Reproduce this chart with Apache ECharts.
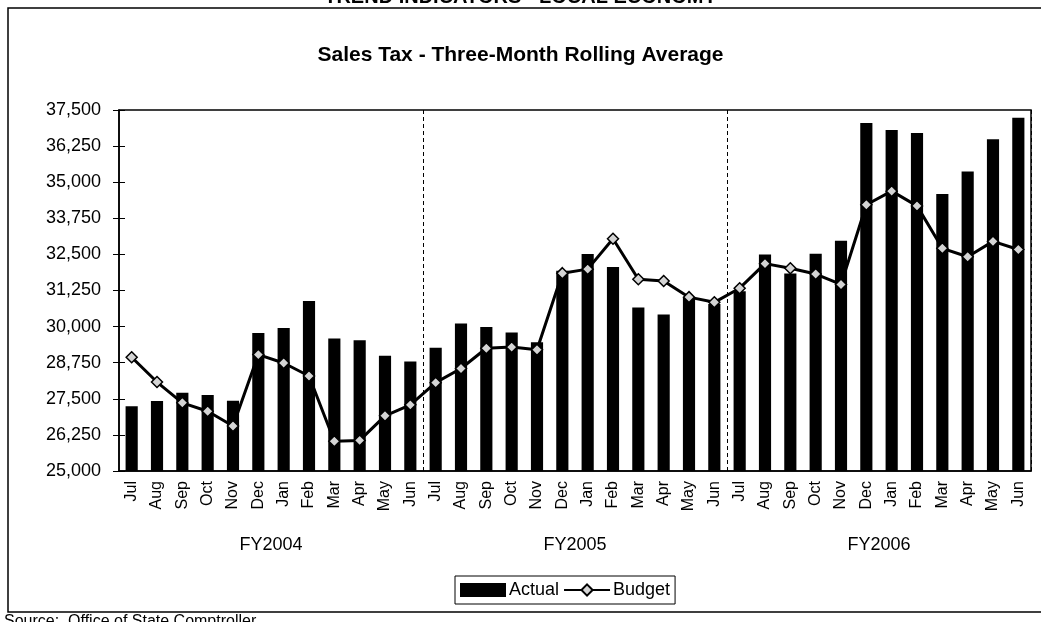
<!DOCTYPE html>
<html>
<head>
<meta charset="utf-8">
<title>Sales Tax - Three-Month Rolling Average</title>
<script src="https://cdn.jsdelivr.net/npm/echarts@6/dist/echarts.min.js"></script>
<style>
  html, body { margin: 0; padding: 0; background: #fff; }
  #line01 { width: 1041px; height: 622px; }
</style>
</head>
<body>
<div id="line01"></div>
<script>
// months, three fiscal years (Jul - Jun)
const months = ["Jul", "Aug", "Sep", "Oct", "Nov", "Dec", "Jan", "Feb", "Mar", "Apr", "May", "Jun",
  "Jul", "Aug", "Sep", "Oct", "Nov", "Dec", "Jan", "Feb", "Mar", "Apr", "May", "Jun",
  "Jul", "Aug", "Sep", "Oct", "Nov", "Dec", "Jan", "Feb", "Mar", "Apr", "May", "Jun"]
const fiscalYears = ["FY2004", "FY2005", "FY2006"]

const actual = [27240, 27420, 27710, 27630, 27430, 29780, 29950, 30890, 29590, 29530, 28990, 28790,
  29270, 30110, 29990, 29800, 29460, 31930, 32510, 32060, 30660, 30420, 31000, 30780,
  31220, 32500, 31840, 32520, 32970, 37050, 36810, 36700, 34590, 35370, 36490, 37230]
const budget = [28940, 28080, 27360, 27070, 26560, 29030, 28740, 28290, 26030, 26060, 26910, 27290,
  28060, 28550, 29250, 29290, 29200, 31850, 31990, 33040, 31640, 31580, 31020, 30840,
  31330, 32180, 32020, 31820, 31460, 34220, 34690, 34180, 32710, 32420, 32950, 32670]

// y ticks 25,000 .. 37,500 step 1,250
const yMin = 25000
const yMax = 37500
const yStep = 1250

const font = "'Liberation Sans', Arial, sans-serif"

let myChart = echarts.init(document.getElementById('line01'))
myChart.setOption({
  backgroundColor: '#fff',
  animation: false,
  textStyle: { fontFamily: font, color: '#000' },
  title: {
    text: 'Sales Tax - Three-Month Rolling Average',
    left: 'center',
    top: 40,
    textStyle: { fontFamily: font, fontSize: 21, fontWeight: 'bold', color: '#000' }
  },
  legend: {
    data: [{ name: 'Actual', icon: 'rect' }, { name: 'Budget' }],
    left: 455,
    top: 576,
    padding: [5, 5],
    itemWidth: 46,
    itemHeight: 14,
    itemGap: 4,
    borderColor: '#000',
    borderWidth: 1,
    textStyle: { fontFamily: font, fontSize: 18, color: '#000', padding: [0, 0, 0, -2] }
  },
  grid: {
    left: 119,
    right: 10,
    top: 110,
    bottom: 151,
    show: true,
    borderColor: '#000',
    borderWidth: 1.5
  },
  xAxis: [
    {
      type: 'category',
      data: months,
      axisLine: { show: true, lineStyle: { color: '#000', width: 1.5 } },
      axisTick: { show: false },
      axisLabel: { interval: 0, rotate: 90, fontSize: 16, color: '#000', margin: 10 },
      // dashed separators between fiscal years
      splitLine: {
        show: true,
        interval: function (index) { return index === 12 || index === 24 },
        lineStyle: { color: '#000', type: [4, 3], width: 1 }
      }
    },
    {
      type: 'category',
      data: fiscalYears,
      position: 'bottom',
      offset: 57,
      axisLine: { show: false },
      axisTick: { show: false },
      splitLine: { show: false },
      axisLabel: { fontSize: 18, color: '#000', margin: 8 }
    }
  ],
  yAxis: [
    {
      type: 'value',
      min: yMin,
      max: yMax,
      interval: yStep,
      splitLine: { show: false },//no gridlines
      axisLine: { show: true, lineStyle: { color: '#000', width: 1.5 } },
      axisTick: { show: true, length: 6, lineStyle: { color: '#000' } },
      axisLabel: {
        fontSize: 18,
        color: '#000',
        margin: 18,
        formatter: v => v.toLocaleString('en-US')
      }
    },
    {
      // inner half of the cross tick marks
      type: 'value',
      min: yMin,
      max: yMax,
      interval: yStep,
      position: 'left',
      splitLine: { show: false },
      axisLine: { show: false },
      axisTick: { show: true, inside: true, length: 6, lineStyle: { color: '#000' } },
      axisLabel: { show: false }
    }
  ],
  series: [
    {
      name: 'Actual',
      type: 'bar',
      barWidth: '48%',
      itemStyle: { color: '#000' },
      data: actual
    },
    {
      name: 'Budget',
      type: 'line',
      symbol: 'diamond',
      symbolSize: 11,
      lineStyle: { color: '#000', width: 3 },
      itemStyle: { color: '#d4d4d4', borderColor: '#000', borderWidth: 1.5 },
      data: budget
    }
  ],
  graphic: [
    // page frame around the chart
    {
      type: 'polyline',
      shape: { points: [[1041, 8], [8, 8], [8, 612], [1041, 612]] },
      style: { stroke: '#000', lineWidth: 1.5, fill: null }
    },
    // report heading, cut off at the top edge
    {
      type: 'text',
      left: 'center',
      top: -13,
      style: { text: 'TREND INDICATORS - LOCAL ECONOMY', font: 'bold 20px ' + font, fill: '#000' }
    },
    // source note, cut off at the bottom edge
    {
      type: 'text',
      left: 4,
      top: 614,
      style: { text: 'Source:  Office of State Comptroller', font: '16px ' + font, fill: '#000' }
    }
  ]
})
</script>
</body>
</html>
